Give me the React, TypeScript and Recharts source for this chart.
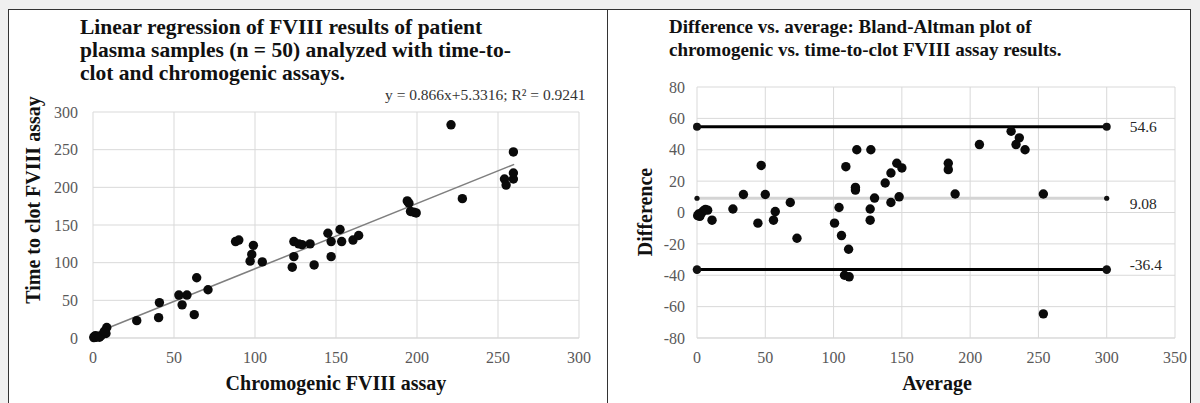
import { ScatterChart, Scatter, XAxis, YAxis, CartesianGrid } from 'recharts';

const serif = '"Liberation Serif", "Times New Roman", serif';

// Left: linear regression (chromogenic vs. time-to-clot)
const chromogenic = [0.8, 2, 5, 8, 8.5, 0.5, 1.5, 4, 27, 40.5, 41, 53, 58, 55, 62.5, 64, 71, 88, 90, 99, 98, 97, 104.5, 124, 124, 123, 127, 129, 134, 136.5, 145, 152.5, 147, 153.5, 160.5, 164, 147, 194, 195, 196, 198, 199.5, 221, 228, 254, 255, 259.5, 259.5, 259.5, 7];
const timeToClot = [2, 1, 3, 6, 14, 0.5, 3, 1, 23, 27, 47, 57, 57, 44, 31, 80, 64, 128, 130, 123, 111, 102, 101, 128, 108, 94, 125, 124, 125, 97, 139, 144, 128, 128, 130, 136, 108, 182, 179, 168, 167, 166, 283, 185, 211, 203, 211, 219, 247, 9];
const trendX = [0, 260];
const trendY = [5.3, 230.5];
const leftTicksX = [0, 50, 100, 150, 200, 250, 300];
const leftTicksY = [0, 50, 100, 150, 200, 250, 300];

// Right: Bland-Altman
const averages = [1.2, 2.4, 4.8, 7.8, 0.5, 3.6, 6.2, 2, 11, 26.3, 34, 47, 50, 44.6, 57.3, 56, 68.3, 73.2, 100.7, 104, 105.8, 109, 111, 108, 111.4, 117, 116, 116, 127.3, 126.8, 126.8, 130, 137.8, 142, 142, 146.3, 150, 148, 184, 184, 189, 206.8, 230, 236, 233.6, 240.2, 253.6, 253.6];
const differences = [-1, -1.5, 1.1, 1.5, -2, 0, 2, -2.5, -4.9, 2.2, 11.5, 30, 11.5, -6.8, 0.6, -4.9, 6.4, -16.4, -6.8, 3.2, -14.7, 29.2, -23.4, -40, -41, 40, 16, 14.3, 40, 2.2, -4.9, 9.2, 18.8, 25.2, 6.4, 31.4, 28.4, 10, 31.4, 27.3, 11.8, 43.3, 51.8, 47.6, 43.3, 40, 11.8, -64.6];
const lineRange = [0, 300];
const upperLoA = 54.6;
const meanDiff = 9.08;
const lowerLoA = -36.4;
const rightTicksX = [0, 50, 100, 150, 200, 250, 300, 350];
const rightTicksY = [-80, -60, -40, -20, 0, 20, 40, 60, 80];

const leftData = chromogenic.map((x, i) => ({ x, y: timeToClot[i] }));
const trendData = trendX.map((x, i) => ({ x, y: trendY[i] }));
const baData = averages.map((x, i) => ({ x, y: differences[i] }));
const hLine = (v: number) => lineRange.map((x, i) => ({ x, y: v, label: i === 1 ? String(v) : '' }));

const tickStyle = { fill: '#595959', fontSize: 16, fontFamily: serif };
const gridColor = '#d9d9d9';

const dot = (p: any) => <circle cx={p.cx} cy={p.cy} r={4.7} fill="#0a0a0a" />;
const none = () => <g />;
const endMarker = (r: number, dy: number) => (p: any) => (
  <g>
    <circle cx={p.cx} cy={p.cy} r={r} fill="#111" />
    {p.payload.label ? (
      <text x={p.cx + 23} y={p.cy + dy} fill="#262626" fontSize={15.5} fontFamily={serif} dominantBaseline="middle">
        {p.payload.label}
      </text>
    ) : null}
  </g>
);

const titleStyle: React.CSSProperties = {
  position: 'absolute',
  fontFamily: serif,
  fontWeight: 'bold',
  lineHeight: '23px',
  color: '#111',
  whiteSpace: 'nowrap',
};
const axisTitle: React.CSSProperties = {
  position: 'absolute',
  fontFamily: serif,
  fontWeight: 'bold',
  fontSize: 20,
  color: '#111',
  whiteSpace: 'nowrap',
  transform: 'translate(-50%, -50%)',
};

export default function App() {
  return (
    <div style={{ position: 'absolute', left: 0, top: 0, width: 1200, height: 403, background: '#f0f0f0', overflow: 'hidden' }}>
      <div style={{ position: 'absolute', left: 8, top: 9, width: 1183, height: 400, background: '#fff', border: '1px solid #333', boxSizing: 'border-box' }} />
      <div style={{ position: 'absolute', left: 607, top: 9, width: 1, height: 400, background: '#333' }} />

      {/* left chart */}
      <div style={{ position: 'absolute', left: 0, top: 0 }}>
        <ScatterChart width={600} height={403} margin={{ top: 112, right: 21, bottom: 35, left: 33 }}>
          <CartesianGrid stroke={gridColor} />
          <XAxis type="number" dataKey="x" domain={[0, 300]} ticks={leftTicksX} tickLine={false} axisLine={{ stroke: gridColor }} tick={tickStyle} tickMargin={8} height={30} />
          <YAxis type="number" dataKey="y" domain={[0, 300]} ticks={leftTicksY} tickLine={false} axisLine={false} tick={tickStyle} tickMargin={9} width={60} />
          <Scatter data={trendData} line={{ stroke: '#7f7f7f', strokeWidth: 1.5 }} shape={none} isAnimationActive={false} />
          <Scatter data={leftData} shape={dot} isAnimationActive={false} />
        </ScatterChart>
      </div>

      {/* right chart */}
      <div style={{ position: 'absolute', left: 600, top: 0 }}>
        <ScatterChart width={600} height={403} margin={{ top: 87, right: 25, bottom: 35, left: 37 }}>
          <CartesianGrid stroke={gridColor} />
          <XAxis type="number" dataKey="x" domain={[0, 350]} ticks={rightTicksX} tickLine={false} axisLine={{ stroke: gridColor }} tick={tickStyle} tickMargin={8} height={30} />
          <YAxis type="number" dataKey="y" domain={[-80, 80]} ticks={rightTicksY} tickLine={false} axisLine={false} tick={tickStyle} tickMargin={6} width={60} />
          <Scatter data={hLine(meanDiff)} line={{ stroke: '#d4d4d4', strokeWidth: 3 }} shape={endMarker(2.6, 7)} isAnimationActive={false} />
          <Scatter data={hLine(upperLoA)} line={{ stroke: '#000', strokeWidth: 3 }} shape={endMarker(4, 2)} isAnimationActive={false} />
          <Scatter data={hLine(lowerLoA)} line={{ stroke: '#000', strokeWidth: 3 }} shape={endMarker(4.3, -3)} isAnimationActive={false} />
          <Scatter data={baData} shape={dot} isAnimationActive={false} />
        </ScatterChart>
      </div>

      <div style={{ ...titleStyle, fontSize: 21.5, left: 80, top: 16 }}>
        Linear regression of FVIII results of patient<br />
        plasma samples (n = 50) analyzed with time-to-<br />
        clot and chromogenic assays.
      </div>
      <div style={{ position: 'absolute', left: 385, top: 86, fontFamily: serif, fontSize: 15.5, color: '#333', whiteSpace: 'nowrap' }}>
        y = 0.866x+5.3316; R² = 0.9241
      </div>
      <div style={{ ...axisTitle, left: 33, top: 200, transform: 'translate(-50%, -50%) rotate(-90deg)' }}>Time to clot FVIII assay</div>
      <div style={{ ...axisTitle, left: 336, top: 383 }}>Chromogenic FVIII assay</div>

      <div style={{ ...titleStyle, fontSize: 19, left: 669, top: 15 }}>
        Difference vs. average: Bland-Altman plot of<br />
        chromogenic vs. time-to-clot FVIII assay results.
      </div>
      <div style={{ ...axisTitle, left: 645, top: 212, transform: 'translate(-50%, -50%) rotate(-90deg)' }}>Difference</div>
      <div style={{ ...axisTitle, left: 937, top: 383 }}>Average</div>
    </div>
  );
}
